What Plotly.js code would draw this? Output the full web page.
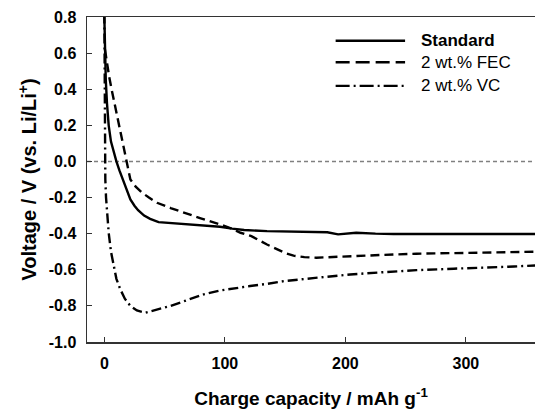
<!DOCTYPE html>
<html>
<head>
<meta charset="utf-8">
<script src="https://cdn.plot.ly/plotly-3.0.1.min.js"></script>
<style>html,body{margin:0;padding:0;background:#fff;}#chart{width:535px;height:409px;}</style>
</head>
<body>
<div id="chart"></div>
<script>
const seriesNames = ["Standard", "2 wt.% FEC", "2 wt.% VC"];

const stdX = [0, 0.5, 1.2, 2.2, 3.6, 5.5, 8, 10, 12.5, 15.5, 18.5, 21.6, 25, 28, 33, 38, 45, 55, 70, 85, 96, 106, 116, 135, 160, 185, 194, 200, 209, 225, 240, 300, 358];
const stdY = [0.8, 0.6, 0.45, 0.32, 0.2, 0.11, 0.04, 0.0, -0.05, -0.1, -0.155, -0.21, -0.245, -0.27, -0.30, -0.318, -0.336, -0.341, -0.345, -0.355, -0.362, -0.372, -0.38, -0.386, -0.39, -0.392, -0.404, -0.40, -0.395, -0.40, -0.402, -0.402, -0.402];

const fecX = [0.5, 2, 4, 6, 9, 11.6, 15, 18, 21.6, 26, 31.3, 37, 43.7, 55, 66, 80, 96, 105, 113, 122, 135, 143, 150, 157, 166, 176, 190, 204, 230, 259, 300, 358];
const fecY = [0.62, 0.55, 0.47, 0.4, 0.3, 0.215, 0.1, 0.0, -0.1, -0.14, -0.173, -0.2, -0.229, -0.258, -0.284, -0.315, -0.349, -0.37, -0.395, -0.414, -0.46, -0.487, -0.507, -0.522, -0.53, -0.533, -0.53, -0.524, -0.518, -0.511, -0.505, -0.50];

const vcX = [0, 0.15, 0.3, 0.8, 1.4, 2.4, 3.6, 5.5, 7.8, 10, 13.3, 17, 21.6, 27, 34, 45, 55, 70, 82.5, 96, 110, 121, 135, 149, 175, 204, 230, 259, 290, 315, 340, 358];
const vcY = [0.82, 0.4, 0.0, -0.1, -0.2, -0.3, -0.395, -0.5, -0.58, -0.65, -0.709, -0.76, -0.80, -0.825, -0.838, -0.82, -0.80, -0.765, -0.736, -0.715, -0.70, -0.69, -0.678, -0.663, -0.645, -0.626, -0.614, -0.602, -0.594, -0.589, -0.582, -0.576];

const xTickVals = [0, 100, 200, 300];
const xTickText = ["0", "100", "200", "300"];
const yTickVals = [-1.0, -0.8, -0.6, -0.4, -0.2, 0.0, 0.2, 0.4, 0.6, 0.8];
const yTickText = ["-1.0", "-0.8", "-0.6", "-0.4", "-0.2", "0.0", "0.2", "0.4", "0.6", "0.8"];

const dashes = ["solid", "9px,5px", "10px,4px,2px,4px"];
const lineW = 2.4;

const traces = [
  {x: stdX, y: stdY, name: seriesNames[0], mode: "lines", line: {color: "#000", width: lineW, dash: dashes[0]}},
  {x: fecX, y: fecY, name: seriesNames[1], mode: "lines", line: {color: "#000", width: lineW, dash: dashes[1]}},
  {x: vcX, y: vcY, name: seriesNames[2], mode: "lines", line: {color: "#000", width: lineW, dash: dashes[2]}}
];

const legendRows = [0.927, 0.861, 0.788];
const shapes = [
  {type: "line", xref: "paper", yref: "y", x0: 0, x1: 1, y0: 0, y1: 0, line: {color: "#808080", width: 1.5, dash: "4px,3px"}, layer: "below"}
];
const annotations = [];
legendRows.forEach((ry, i) => {
  shapes.push({type: "line", xref: "paper", yref: "paper", x0: 0.555, x1: 0.71, y0: ry, y1: ry,
    line: {color: "#000", width: lineW, dash: i === 1 ? "14px,6px" : (i === 2 ? "14px,4px,2px,4px" : "solid")}});
  annotations.push({xref: "paper", yref: "paper", x: 0.742, y: ry, xanchor: "left", yanchor: "middle", showarrow: false,
    text: i === 0 ? "<b>" + seriesNames[i] + "</b>" : seriesNames[i],
    font: {family: "Liberation Sans, Arial, sans-serif", size: 17, color: "#000"}});
});

const layout = {
  width: 535, height: 409,
  margin: {l: 87, r: 0, t: 17, b: 67},
  paper_bgcolor: "#fff", plot_bgcolor: "#fff",
  showlegend: false,
  font: {family: "Liberation Sans, Arial, sans-serif", color: "#000"},
  xaxis: {
    range: [-14.4, 357.4], showgrid: false, zeroline: false,
    tickmode: "array", tickvals: xTickVals, ticktext: xTickText.map(t => "<b>" + t + "</b>"),
    ticks: "inside", ticklen: 5, tickwidth: 1.2, tickcolor: "#333",
    showline: true, linecolor: "#333", linewidth: 1.5, mirror: true,
    tickfont: {size: 16}, ticklabelstandoff: 6,
    title: {text: "<b>Charge capacity / mAh g<sup>-1</sup></b>", font: {size: 19}, standoff: 22}
  },
  yaxis: {
    range: [-1.0, 0.8], showgrid: false, zeroline: false,
    tickmode: "array", tickvals: yTickVals, ticktext: yTickText.map(t => "<b>" + t + "</b>"),
    ticks: "inside", ticklen: 5, tickwidth: 1.2, tickcolor: "#333",
    showline: true, linecolor: "#333", linewidth: 1.5,
    tickfont: {size: 16}, ticklabelstandoff: 6,
    title: {text: "<b>Voltage / V (vs. Li/Li<sup>+</sup>)</b>", font: {size: 20}, standoff: 6}
  },
  shapes: shapes,
  annotations: annotations
};

Plotly.newPlot("chart", traces, layout, {displayModeBar: false, staticPlot: true});
</script>
</body>
</html>
